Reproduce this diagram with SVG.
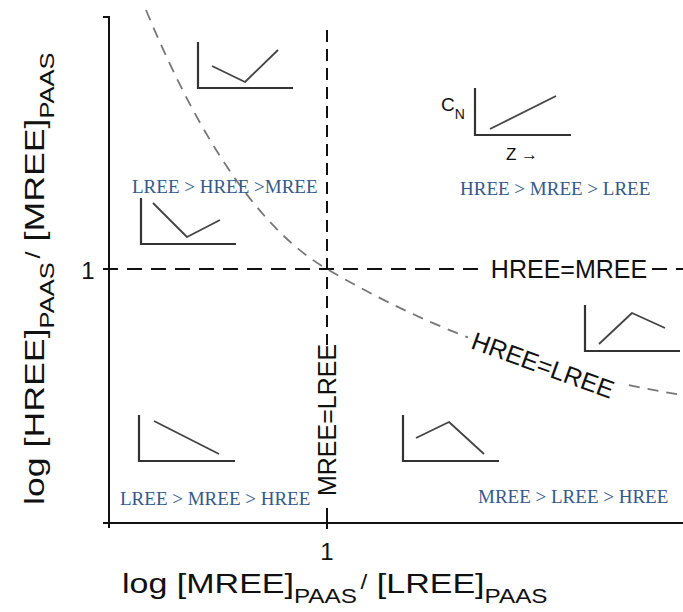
<svg xmlns="http://www.w3.org/2000/svg" width="683" height="612" viewBox="0 0 683 612">
  <defs>
    <style>
      .axis { stroke: #111; stroke-width: 2; fill: none; }
      .dash-h { stroke: #111; stroke-width: 2; fill: none; stroke-dasharray: 15 9; }
      .dash-v { stroke: #111; stroke-width: 2; fill: none; stroke-dasharray: 12 7; }
      .curve { stroke: #777; stroke-width: 1.8; fill: none; stroke-dasharray: 11 8; }
      .icon-ax { stroke: #333; stroke-width: 2.2; fill: none; }
      .icon-ln { stroke: #444; stroke-width: 1.8; fill: none; stroke-linejoin: round; }
      .sans { font-family: "Liberation Sans", Arial, Helvetica, sans-serif; fill: #111; }
      .line-lbl { font-size: 25px; }
      .region { font-family: "Liberation Serif", "Times New Roman", serif; font-size: 19px; fill: #34598a; }
    </style>
  </defs>

  <rect width="683" height="612" fill="#fff"/>

  <!-- axes -->
  <g id="axes">
    <path class="axis" d="M103,17 H109 V528"/>
    <path class="axis" d="M103,523 H683"/>
    <path class="axis" d="M327,508 V529"/>
    <text class="sans" x="88" y="279" font-size="24" text-anchor="middle">1</text>
    <text class="sans" x="327" y="560" font-size="24" text-anchor="middle">1</text>
  </g>

  <!-- axis titles (set wide) -->
  <g id="x-title" transform="translate(122,593) scale(1.215,1)">
    <text class="sans" x="0" y="0" font-size="28">log [MREE]<tspan font-size="20" dy="10">PAAS</tspan><tspan font-size="20" dx="3" dy="-14">/</tspan><tspan dy="4"> [LREE]</tspan><tspan font-size="20" dy="10">PAAS</tspan></text>
  </g>
  <g id="y-title" transform="translate(44,505) rotate(-90) scale(1.275,1)">
    <text class="sans" x="0" y="0" font-size="28">log [HREE]<tspan font-size="20" dy="10">PAAS</tspan><tspan font-size="20" dx="3" dy="-14">/</tspan><tspan dy="4"> [MREE]</tspan><tspan font-size="20" dy="10">PAAS</tspan></text>
  </g>

  <!-- boundary lines -->
  <g id="connectors">
    <path class="dash-h" d="M103,269 H486"/>
    <path class="dash-h" d="M652,269 H683"/>
    <path class="dash-v" d="M327,30 V345"/>
    <path id="hree-lree" class="curve" d="M146,10 C200,140 260,230 327,269 C400,312 520,370 683,395"/>
  </g>

  <g id="label-hree-mree">
    <text class="sans line-lbl" x="569" y="278" text-anchor="middle">HREE=MREE</text>
  </g>
  <g id="label-mree-lree" transform="translate(336,420) rotate(-90)">
    <text class="sans line-lbl" x="0" y="0" text-anchor="middle">MREE=LREE</text>
  </g>
  <g id="label-hree-lree" transform="translate(543,365) rotate(20)">
    <rect x="-80" y="-11" width="160" height="22" fill="#fff"/>
    <text class="sans line-lbl" x="0" y="9" text-anchor="middle">HREE=LREE</text>
  </g>

  <!-- pattern sketches -->
  <g id="icon-top-left">
    <polyline class="icon-ax" points="198,42 198,88 293,88"/>
    <polyline class="icon-ln" points="212,66 245,82 278,50"/>
  </g>
  <g id="icon-left-mid">
    <polyline class="icon-ax" points="141,198 141,244 236,244"/>
    <polyline class="icon-ln" points="153,203 187,237 220,220"/>
  </g>
  <g id="icon-key">
    <polyline class="icon-ax" points="475,88 475,135 571,135"/>
    <polyline class="icon-ln" points="490,129 556,96"/>
    <text class="sans" x="441" y="111" font-size="19">C<tspan font-size="14" dy="8">N</tspan></text>
    <text class="sans" x="522" y="160" font-size="17" text-anchor="middle">Z →</text>
  </g>
  <g id="icon-right-mid">
    <polyline class="icon-ax" points="585,305 585,351 680,351"/>
    <polyline class="icon-ln" points="599,344 632,313 665,328"/>
  </g>
  <g id="icon-bottom-left">
    <polyline class="icon-ax" points="139,415 139,461 235,461"/>
    <polyline class="icon-ln" points="154,421 219,454"/>
  </g>
  <g id="icon-bottom-mid">
    <polyline class="icon-ax" points="403,415 403,461 499,461"/>
    <polyline class="icon-ln" points="416,438 449,422 484,454"/>
  </g>

  <!-- region orderings -->
  <g id="regions">
    <text class="region" x="132" y="193">LREE &gt; HREE &gt;MREE</text>
    <text class="region" x="460" y="195">HREE &gt; MREE &gt; LREE</text>
    <text class="region" x="120" y="505">LREE &gt; MREE &gt; HREE</text>
    <text class="region" x="478" y="503">MREE &gt; LREE &gt; HREE</text>
  </g>
</svg>
